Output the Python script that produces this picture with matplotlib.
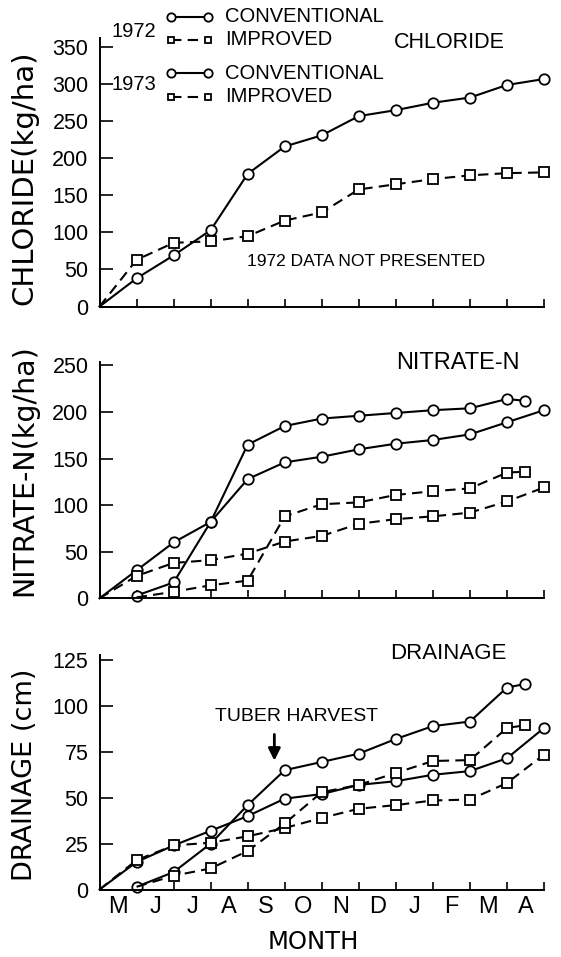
import numpy as np
import matplotlib.pyplot as plt

# month labels sit between the ticks; ticks are sample dates
months = ['M', 'J', 'J', 'A', 'S', 'O', 'N', 'D', 'J', 'F', 'M', 'A']
x73 = [0, 1, 2, 3, 4, 5, 6, 7, 8, 9, 10, 11, 12]
x72 = [1, 2, 3, 4, 5, 6, 7, 8, 9, 10, 11, 11.5]

# chloride (kg/ha), 1973 only
cl_conv_73 = [0, 38, 69, 103, 179, 216, 231, 257, 265, 275, 282, 299, 307]
cl_impr_73 = [0, 63, 86, 88, 95, 116, 127, 158, 165, 172, 177, 180, 181]

# nitrate-N (kg/ha)
no3_conv_73 = [0, 30, 60, 82, 128, 146, 152, 160, 166, 170, 176, 189, 202]
no3_impr_73 = [0, 24, 38, 41, 48, 61, 67, 80, 85, 88, 92, 104, 119]
no3_conv_72 = [3, 17, 82, 165, 185, 193, 196, 199, 202, 204, 214, 212]
no3_impr_72 = [1, 7, 14, 19, 88, 101, 103, 111, 115, 118, 135, 136]

# drainage (cm)
dr_conv_73 = [0, 15, 24, 32, 40, 49.5, 52, 57, 59, 62.5, 64.5, 71.5, 88]
dr_impr_73 = [0, 16, 24, 25.5, 29, 33.5, 39, 44, 46, 48.5, 49, 58, 73.5]
dr_conv_72 = [1.5, 9.5, 25, 46, 65, 69.5, 74, 82, 89, 91.5, 110, 112]
dr_impr_72 = [1.5, 7.5, 11.5, 21, 36, 53, 57, 63.5, 70, 70.5, 88, 89.5]

NARROW = ['Liberation Sans', 'DejaVu Sans']
WIDE = ['DejaVu Sans']

conv_style = dict(color='black', lw=1.5, marker='o', ms=7.5, mfc='white',
                  mec='black', mew=1.3, clip_on=False)
impr_style = dict(color='black', lw=1.5, ls=(0, (5, 3)), marker='s', ms=6.5,
                  mfc='white', mec='black', mew=1.3, clip_on=False)
skip0 = slice(1, None)  # no marker on the starting point


def setup(ax, ymax, yticks, title, tx, ty, tsize):
    for s in ['top', 'right']:
        ax.spines[s].set_visible(False)
    for s in ['left', 'bottom']:
        ax.spines[s].set_linewidth(1.4)
    ax.set_xlim(0, 12)
    ax.set_ylim(0, ymax)
    ax.set_xticks(np.arange(13))
    ax.set_xticklabels([])
    ax.set_yticks(yticks)
    ax.set_yticklabels([str(t) for t in yticks], family=NARROW, fontsize=15.5)
    ax.tick_params(axis='x', which='major', direction='in', length=6, width=1.2)
    ax.tick_params(axis='y', direction='in', length=9, width=1.2, pad=8)
    ax.text(tx, ty, title, transform=ax.transAxes, ha='center', va='center',
            family=NARROW, fontsize=tsize)


fig = plt.figure(figsize=(5.61, 9.57), dpi=100)
ax1 = fig.add_axes([0.1774, 0.6797, 0.7923, 0.2803])
ax2 = fig.add_axes([0.1774, 0.3748, 0.7923, 0.2472])
ax3 = fig.add_axes([0.1774, 0.0705, 0.7923, 0.2450])

# chloride
setup(ax1, 362, [0, 50, 100, 150, 200, 250, 300, 350], 'CHLORIDE', 0.787, 0.986, 15.5)
ax1.plot(x73, cl_conv_73, markevery=skip0, **conv_style)
ax1.plot(x73, cl_impr_73, markevery=skip0, **impr_style)
ax1.text(7.21, 60.5, '1972 DATA NOT PRESENTED', ha='center', va='center',
         family=NARROW, fontsize=12.5)

# legend, drawn by hand like the original
lx = [0.161, 0.243]
for yrow, st in [(1.081, conv_style), (0.994, impr_style),
                 (0.870, conv_style), (0.782, impr_style)]:
    s = dict(st)
    s['ms'] = s['ms'] - 1.5
    ax1.plot(lx, [yrow, yrow], transform=ax1.transAxes, **s)
for yrow, lab in [(1.081, 'CONVENTIONAL'), (0.994, 'IMPROVED'),
                  (0.870, 'CONVENTIONAL'), (0.782, 'IMPROVED')]:
    ax1.text(0.2815, yrow, lab, transform=ax1.transAxes, ha='left',
             va='center', family=NARROW, fontsize=14.5)
ax1.text(0.128, 1.025, '1972', transform=ax1.transAxes, ha='right',
         va='center', family=NARROW, fontsize=14.5)
ax1.text(0.128, 0.826, '1973', transform=ax1.transAxes, ha='right',
         va='center', family=NARROW, fontsize=14.5)

# nitrate
setup(ax2, 254, [0, 50, 100, 150, 200, 250], 'NITRATE-N', 0.806, 0.993, 17)
ax2.plot(x73, no3_conv_73, markevery=skip0, **conv_style)
ax2.plot(x72, no3_conv_72, **conv_style)
ax2.plot(x73, no3_impr_73, markevery=skip0, **impr_style)
ax2.plot(x72, no3_impr_72, markevery=skip0, **impr_style)

# drainage
setup(ax3, 127.7, [0, 25, 50, 75, 100, 125], 'DRAINAGE', 0.784, 1.007, 16)
ax3.plot(x73, dr_conv_73, markevery=skip0, **conv_style)
ax3.plot(x72, dr_conv_72, **conv_style)
ax3.plot(x73, dr_impr_73, markevery=skip0, **impr_style)
ax3.plot(x72, dr_impr_72, markevery=skip0, **impr_style)
ax3.set_xticks(np.arange(12) + 0.5, minor=True)
ax3.set_xticklabels(months, minor=True, family=NARROW, fontsize=17)
ax3.tick_params(axis='x', which='minor', length=0, pad=5)
ax3.text(5.32, 94.1, 'TUBER HARVEST', ha='center', va='center',
         family=NARROW, fontsize=14)
ax3.annotate('', xy=(4.72, 68.7), xytext=(4.72, 86),
             arrowprops=dict(arrowstyle='-|>', color='black', lw=2,
                             mutation_scale=18))

# axis titles
fig.text(0.0428, 0.8145, 'CHLORIDE(kg/ha)', rotation=90, ha='center',
         va='center', family=WIDE, fontsize=21)
fig.text(0.0428, 0.5089, 'NITRATE-N(kg/ha)', rotation=90, ha='center',
         va='center', family=WIDE, fontsize=20.5)
fig.text(0.0445, 0.1902, 'DRAINAGE (cm)', rotation=90, ha='center',
         va='center', family=WIDE, fontsize=19.5)
fig.text(0.5585, 0.0085, 'MONTH', ha='center', va='baseline', family=WIDE,
         fontsize=17.5)

fig.savefig('out.png', dpi=100)
